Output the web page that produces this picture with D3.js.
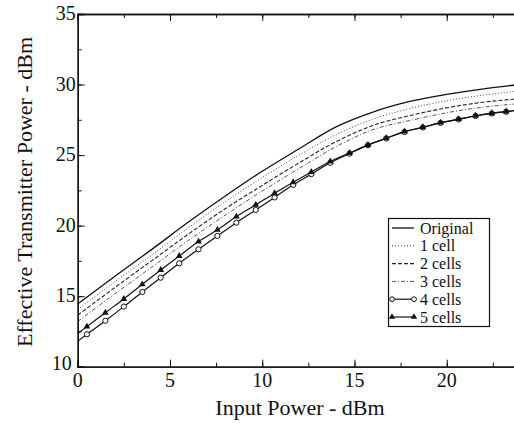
<!DOCTYPE html>
<html>
<head>
<meta charset="utf-8">
<script src="https://cdn.jsdelivr.net/npm/d3@7"></script>
<style>
  body { margin: 0; background: #fff; }
  text { font-family: "Liberation Serif", "Times New Roman", serif; fill: #111; }
</style>
</head>
<body>
<div class="chart"></div>
<script>
// smooth curves, read every 2 dBm
let inputSmooth = [0, 2, 4, 6, 8, 10, 12, 14, 16, 18, 20, 22, 24];
let original = [14.45, 16.4, 18.3, 20.25, 22.1, 23.85, 25.45, 27.0, 28.05, 28.8, 29.3, 29.7, 30.0];
let cell1 = [14.05, 16.0, 17.9, 19.85, 21.7, 23.4, 25.0, 26.45, 27.55, 28.3, 28.85, 29.25, 29.55];
let cell2 = [13.65, 15.6, 17.5, 19.4, 21.2, 22.85, 24.45, 25.95, 27.1, 27.8, 28.35, 28.75, 29.0];
let cell3 = [13.2, 15.15, 17.05, 18.95, 20.75, 22.45, 24.05, 25.6, 26.8, 27.45, 28.0, 28.4, 28.65];

// marker curves: first and last point carry no marker
let inputMarked = [0, 0.5, 1.5, 2.5, 3.5, 4.5, 5.5, 6.55, 7.57, 8.6, 9.65, 10.67, 11.68, 12.66, 13.69,
  14.73, 15.73, 16.72, 17.71, 18.71, 19.66, 20.64, 21.56, 22.44, 23.22, 24];
let cell4 = [11.8, 12.3, 13.26, 14.26, 15.3, 16.31, 17.33, 18.32, 19.27, 20.21, 21.11, 22.0, 22.89, 23.65, 24.45,
  25.1, 25.7, 26.18, 26.64, 26.96, 27.28, 27.53, 27.77, 27.95, 28.07, 28.2];
let cell5 = [12.35, 12.84, 13.83, 14.8, 15.84, 16.86, 17.85, 18.87, 19.7, 20.64, 21.47, 22.3, 23.08, 23.8, 24.55,
  25.15, 25.72, 26.2, 26.67, 26.98, 27.3, 27.55, 27.79, 27.97, 28.09, 28.22];

let xTicks = [0, 5, 10, 15, 20];
let yTicks = [10, 15, 20, 25, 30, 35];
let legendNames = ["Original", "1 cell", "2 cells", "3 cells", "4 cells", "5 cells"];

let width = 514;
let height = 423;

let svg = d3.select(".chart")
  .append("svg")
  .attr("width", width)
  .attr("height", height);

let x = d3.scaleLinear().domain([0, 25]).range([77.7, 539]);
let y = d3.scaleLinear().domain([10, 35]).range([366.7, 14]);

let line = d3.line()
  .x(function(d) { return x(d[0]); })
  .y(function(d) { return y(d[1]); })
  .curve(d3.curveMonotoneX);

let styles = [
  { dash: null, width: 1.3, color: "#111" },
  { dash: "1,2", width: 1, color: "#444" },
  { dash: "4,2", width: 1.1, color: "#222" },
  { dash: "4,2,1,2", width: 1, color: "#555" },
  { dash: null, width: 1.2, color: "#111" },
  { dash: null, width: 1.2, color: "#111" }
];

let plot = svg.append("g");

let smoothSeries = [original, cell1, cell2, cell3];
smoothSeries.forEach(function(vals, i) {
  let pts = inputSmooth.map(function(v, j) { return [v, vals[j]]; });
  plot.append("path")
    .attr("d", line(pts))
    .attr("fill", "none")
    .attr("stroke", styles[i].color)
    .attr("stroke-width", styles[i].width)
    .attr("stroke-dasharray", styles[i].dash);
});

let markedSeries = [cell4, cell5];
markedSeries.forEach(function(vals, i) {
  let pts = inputMarked.map(function(v, j) { return [v, vals[j]]; });
  plot.append("path")
    .attr("d", line(pts))
    .attr("fill", "none")
    .attr("stroke", "#111")
    .attr("stroke-width", 1.2);

  let marks = pts.slice(1, -1);
  if (i == 0) {
    plot.selectAll(null)
      .data(marks)
      .enter().append("circle")
      .attr("cx", function(d) { return x(d[0]); })
      .attr("cy", function(d) { return y(d[1]); })
      .attr("r", 2.6)
      .attr("fill", "#fff")
      .attr("stroke", "#111")
      .attr("stroke-width", 1);
  } else {
    plot.selectAll(null)
      .data(marks)
      .enter().append("path")
      .attr("d", d3.symbol().type(d3.symbolTriangle).size(20))
      .attr("transform", function(d) { return "translate(" + x(d[0]) + "," + y(d[1]) + ")"; })
      .attr("fill", "#111");
  }
});

// axes, ticks inward on all four sides
let minorX = d3.range(0, 25.1, 2.5);
let minorY = d3.range(10, 35.1, 2.5);

svg.append("g")
  .attr("transform", "translate(0," + y(10) + ")")
  .call(d3.axisTop(x).tickValues(minorX).tickSize(4).tickFormat(""));
svg.append("g")
  .attr("transform", "translate(0," + y(10) + ")")
  .call(d3.axisTop(x).tickValues(xTicks).tickSize(7).tickFormat(""));
svg.append("g")
  .attr("transform", "translate(0," + y(35) + ")")
  .call(d3.axisBottom(x).tickValues(minorX).tickSize(4).tickFormat(""));
svg.append("g")
  .attr("transform", "translate(0," + y(35) + ")")
  .call(d3.axisBottom(x).tickValues(xTicks).tickSize(7).tickFormat(""));
svg.append("g")
  .attr("transform", "translate(" + x(0) + ",0)")
  .call(d3.axisRight(y).tickValues(minorY).tickSize(4).tickFormat(""));
svg.append("g")
  .attr("transform", "translate(" + x(0) + ",0)")
  .call(d3.axisRight(y).tickValues(yTicks).tickSize(7).tickFormat(""));
svg.append("g")
  .attr("transform", "translate(" + x(25) + ",0)")
  .call(d3.axisLeft(y).tickValues(yTicks).tickSize(7).tickFormat(""));

svg.selectAll(".domain").attr("stroke", "#111").attr("stroke-width", 1.3);
svg.selectAll(".tick line").attr("stroke", "#111");

svg.selectAll(".xlab")
  .data(xTicks)
  .enter().append("text")
  .attr("x", function(d) { return x(d); })
  .attr("y", y(10) + 20)
  .attr("text-anchor", "middle")
  .attr("font-size", 20)
  .text(String);

svg.selectAll(".ylab")
  .data(yTicks)
  .enter().append("text")
  .attr("x", function(d) { return d == 10 ? x(0) - 6 : x(0) - 2; })
  .attr("y", function(d) { return d == 10 ? y(d) + 3 : y(d) + 6; })
  .attr("text-anchor", "end")
  .attr("font-size", 20)
  .text(String);

svg.append("text")
  .attr("x", 300)
  .attr("y", 415)
  .attr("text-anchor", "middle")
  .attr("font-size", 22)
  .text("Input Power - dBm");

svg.append("text")
  .attr("transform", "translate(32,192) rotate(-90)")
  .attr("text-anchor", "middle")
  .attr("font-size", 22)
  .text("Effective Transmitter Power - dBm");

// legend
let rowGap = 17.8;
let legend = svg.append("g");
legend.append("rect")
  .attr("x", 388.5)
  .attr("y", 218.5)
  .attr("width", 101)
  .attr("height", 108)
  .attr("fill", "#fff")
  .attr("stroke", "#111")
  .attr("stroke-width", 1.2);

let rows = legend.selectAll(".row")
  .data(legendNames)
  .enter().append("g")
  .attr("transform", function(d, i) { return "translate(0," + (228 + i * rowGap) + ")"; });

rows.append("line")
  .attr("x1", 392)
  .attr("x2", 414)
  .attr("y1", 0)
  .attr("y2", 0)
  .attr("stroke", function(d, i) { return styles[i].color; })
  .attr("stroke-width", function(d, i) { return styles[i].width; })
  .attr("stroke-dasharray", function(d, i) { return styles[i].dash; });

rows.append("text")
  .attr("x", 420)
  .attr("y", 5.5)
  .attr("font-size", 16)
  .text(String);

rows.filter(function(d, i) { return i == 4; })
  .selectAll(null)
  .data([392, 414])
  .enter().append("circle")
  .attr("cx", function(d) { return d; })
  .attr("cy", 0)
  .attr("r", 2.4)
  .attr("fill", "#fff")
  .attr("stroke", "#111");

rows.filter(function(d, i) { return i == 5; })
  .selectAll(null)
  .data([392, 414])
  .enter().append("path")
  .attr("d", d3.symbol().type(d3.symbolTriangle).size(18))
  .attr("transform", function(d) { return "translate(" + d + ",0)"; })
  .attr("fill", "#111");
</script>
</body>
</html>
